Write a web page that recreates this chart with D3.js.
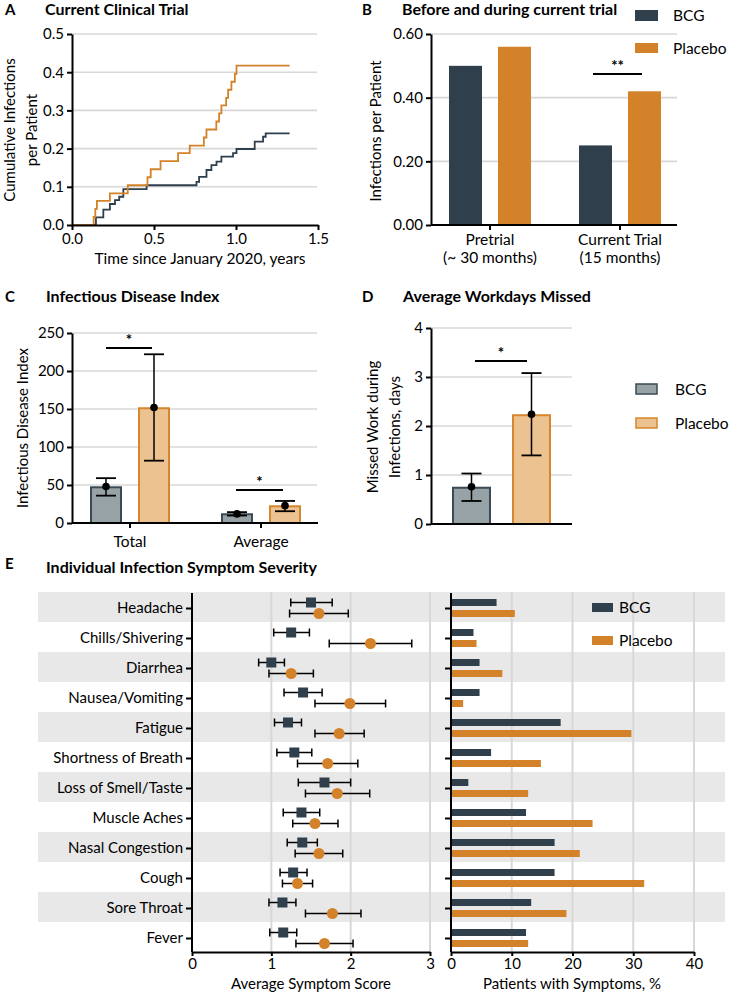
<!DOCTYPE html>
<html><head><meta charset="utf-8">
<script src="https://cdn.jsdelivr.net/npm/d3@7"></script>
<style>body{margin:0;background:#fff} svg{display:block}</style>
</head><body><svg id="c" width="729" height="993"></svg>
<script>
// ---------- DATA ----------
// Panel A: cumulative infections per patient (step curves)
const aPlaceboT = [0,0.132,0.142,0.152,0.231,0.34,0.46,0.48,0.54,0.647,0.718,0.804,0.82,0.88,0.897,0.911,0.94,0.952,0.972,0.993,1.003,1.327];
const aPlaceboV = [0,0.021,0.042,0.063,0.083,0.104,0.125,0.146,0.167,0.188,0.208,0.229,0.25,0.271,0.292,0.313,0.333,0.354,0.375,0.396,0.417,0.417];
const aBcgT = [0,0.146,0.191,0.231,0.262,0.288,0.313,0.455,0.759,0.775,0.82,0.85,0.881,0.911,0.982,1.003,1.114,1.165,1.181,1.327];
const aBcgV = [0,0.02,0.04,0.055,0.065,0.074,0.094,0.104,0.113,0.126,0.144,0.157,0.166,0.179,0.188,0.199,0.218,0.231,0.24,0.24];
const aTicksX = [0,0.5,1.0,1.5];
const aTicksY = [0,0.1,0.2,0.3,0.4,0.5];

// Panel B
const bCatLine1 = ["Pretrial","Current Trial"];
const bCatLine2 = ["(~ 30 months)","(15 months)"];
const bBcg = [0.50,0.25];
const bPlacebo = [0.56,0.42];
const bTicksY = [0,0.2,0.4,0.6];

// Panel C
const cCats = ["Total","Average"];
const cBcg = [47,11.5];
const cPlacebo = [151,22];
const cBcgMean = [48,12];
const cBcgLo = [36,9.8];
const cBcgHi = [59,14.3];
const cPlaceboMean = [152,22.8];
const cPlaceboLo = [82,15.5];
const cPlaceboHi = [222,29];
const cTicksY = [0,50,100,150,200,250];

// Panel D
const dGroups = ["BCG","Placebo"];
const dBar = [0.74,2.22];
const dMean = [0.76,2.24];
const dLo = [0.47,1.4];
const dHi = [1.03,3.08];
const dTicksY = [0,1,2,3,4];

// Panel E
const eSymptoms = ["Headache","Chills/Shivering","Diarrhea","Nausea/Vomiting","Fatigue","Shortness of Breath","Loss of Smell/Taste","Muscle Aches","Nasal Congestion","Cough","Sore Throat","Fever"];
const eBcgScore   = [1.50,1.25,1.00,1.40,1.21,1.29,1.67,1.38,1.39,1.275,1.14,1.15];
const eBcgLo      = [1.245,1.03,0.84,1.16,1.04,1.07,1.34,1.15,1.20,1.11,0.97,0.98];
const eBcgHi      = [1.767,1.48,1.165,1.64,1.38,1.51,2.00,1.61,1.58,1.45,1.31,1.32];
const ePlaceboScore = [1.60,2.25,1.25,1.99,1.855,1.71,1.83,1.55,1.60,1.33,1.77,1.67];
const ePlaceboLo  = [1.23,1.73,0.97,1.55,1.55,1.33,1.43,1.27,1.30,1.14,1.43,1.31];
const ePlaceboHi  = [1.97,2.77,1.53,2.44,2.17,2.09,2.24,1.84,1.90,1.52,2.13,2.03];
const eBcgPct     = [7.5,3.7,4.7,4.7,18.05,6.6,2.85,12.35,17.05,17.05,13.2,12.35];
const ePlaceboPct = [10.5,4.2,8.45,2.0,29.7,14.8,12.7,23.3,21.2,31.8,19.0,12.7];
const eTicksScore = [0,1,2,3];
const eTicksPct = [0,10,20,30,40];

// ---------- STYLE ----------
const FONT = "Lato, 'Open Sans', 'DejaVu Sans', sans-serif";
const DARK = "#2f3f4b", ORANGE = "#d3822a", GRID = "#d8d8d8", BAND = "#e8e8e8";
const BCG_FILL = "#97a2a6", BCG_STROKE = "#3b4a53", PL_FILL = "#edc291", PL_STROKE = "#d6862c";
const TITLE = 16, LETTER = 15;

const svg = d3.select("#c").attr("font-family", FONT);

function styleAxis(g, fs) {
  g.selectAll(".domain").attr("stroke","#000").attr("stroke-width",2);
  g.selectAll(".tick line").attr("stroke","#000").attr("stroke-width",2);
  g.selectAll(".tick text").attr("font-size",fs||15).attr("font-family",FONT).attr("fill","#000");
}
function txt(x,y,s,opt) {
  opt = opt||{};
  const t = svg.append("text").attr("x",x).attr("y",y).text(s)
    .attr("font-size",opt.size||15).attr("fill","#000")
    .attr("text-anchor",opt.anchor||"start")
    .attr("font-weight",opt.bold?"bold":"normal");
  if (opt.rot) t.attr("transform",`rotate(-90,${x},${y})`);
  return t;
}
function hgrid(scale, vals, x1, x2) {
  svg.append("g").selectAll("line").data(vals).join("line")
    .attr("x1",x1).attr("x2",x2).attr("y1",d=>scale(d)).attr("y2",d=>scale(d))
    .attr("stroke",GRID).attr("stroke-width",1.6);
}
function sig(x1,x2,y,label) {
  svg.append("line").attr("x1",x1).attr("x2",x2).attr("y1",y).attr("y2",y).attr("stroke","#000").attr("stroke-width",2);
  txt((x1+x2)/2, y-3, label, {anchor:"middle", size:15, bold:true});
}
function vErr(x,lo,hi,mean,cap) {
  const g = svg.append("g");
  g.append("line").attr("x1",x).attr("x2",x).attr("y1",lo).attr("y2",hi).attr("stroke","#000").attr("stroke-width",1.5);
  [lo,hi].forEach(y=>g.append("line").attr("x1",x-cap).attr("x2",x+cap).attr("y1",y).attr("y2",y).attr("stroke","#000").attr("stroke-width",1.8));
  g.append("circle").attr("cx",x).attr("cy",mean).attr("r",3.8).attr("fill","#000");
}
const fInt = d3.format("d");

// ---------- PANEL A ----------
{
  const x = d3.scaleLinear().domain([0,1.5]).range([72,318]);
  const y = d3.scaleLinear().domain([0,0.5]).range([225,34]);
  hgrid(y, aTicksY.slice(1), 72, 317);
  const line = d3.line().x(d=>x(d[0])).y(d=>y(d[1])).curve(d3.curveStepAfter);
  svg.append("path").datum(d3.zip(aBcgT,aBcgV)).attr("d",line).attr("fill","none").attr("stroke",DARK).attr("stroke-width",1.8);
  svg.append("path").datum(d3.zip(aPlaceboT,aPlaceboV)).attr("d",line).attr("fill","none").attr("stroke",ORANGE).attr("stroke-width",1.8);
  svg.append("g").attr("transform",`translate(0,${y(0)})`)
    .call(d3.axisBottom(x).tickValues(aTicksX).tickFormat(d3.format(".1f")).tickSize(5).tickSizeOuter(0)).call(g=>styleAxis(g,15));
  svg.append("g").attr("transform",`translate(${x(0)},0)`)
    .call(d3.axisLeft(y).tickValues(aTicksY).tickFormat(d3.format(".1f")).tickSize(5).tickSizeOuter(0)).call(g=>styleAxis(g,15));
  txt(5,15,"A",{bold:true,size:LETTER});
  txt(45,15,"Current Clinical Trial",{bold:true,size:TITLE});
  txt(15,130,"Cumulative Infections",{rot:true,anchor:"middle",size:15});
  txt(37,130,"per Patient",{rot:true,anchor:"middle",size:15});
  txt(200,264,"Time since January 2020, years",{anchor:"middle",size:15.5});
}

// ---------- PANEL B ----------
{
  const x = d3.scaleBand().domain(bCatLine1).range([425,685]);
  const inner = d3.scaleBand().domain(["BCG","Placebo"]).range([-41,41]).paddingInner(16/49);
  const y = d3.scaleLinear().domain([0,0.6]).range([225,34]);
  hgrid(y, bTicksY.slice(1), 431, 677);
  const g = svg.append("g");
  bCatLine1.forEach((c,i)=>{
    const cx = x(c)+x.bandwidth()/2;
    g.append("rect").attr("x",cx+inner("BCG")).attr("width",inner.bandwidth()).attr("y",y(bBcg[i])).attr("height",y(0)-y(bBcg[i])).attr("fill",DARK);
    g.append("rect").attr("x",cx+inner("Placebo")).attr("width",inner.bandwidth()).attr("y",y(bPlacebo[i])).attr("height",y(0)-y(bPlacebo[i])).attr("fill",ORANGE);
  });
  const ax = svg.append("g").attr("transform",`translate(0,${y(0)})`)
    .call(d3.axisBottom(x).tickSize(5).tickSizeOuter(0).tickFormat(()=>"")).call(g=>styleAxis(g,15));
  ax.select(".domain").remove();
  svg.append("line").attr("x1",431).attr("x2",677).attr("y1",y(0)).attr("y2",y(0)).attr("stroke","#000").attr("stroke-width",2);
  bCatLine1.forEach((c,i)=>{
    const cx = x(c)+x.bandwidth()/2;
    txt(cx,245,c,{anchor:"middle",size:15.5});
    txt(cx,263,bCatLine2[i],{anchor:"middle",size:15.5});
  });
  svg.append("g").attr("transform",`translate(431,0)`)
    .call(d3.axisLeft(y).tickValues(bTicksY).tickFormat(d3.format(".2f")).tickSize(5).tickSizeOuter(0)).call(g=>styleAxis(g,15));
  const c2 = x(bCatLine1[1])+x.bandwidth()/2;
  sig(c2-27, c2+22, 74, "**");
  txt(362,15,"B",{bold:true,size:LETTER});
  txt(402,15,"Before and during current trial",{bold:true,size:TITLE});
  txt(381,131,"Infections per Patient",{rot:true,anchor:"middle",size:15});
  // legend
  svg.append("rect").attr("x",635).attr("y",10).attr("width",23).attr("height",11).attr("fill",DARK);
  svg.append("rect").attr("x",635).attr("y",43).attr("width",23).attr("height",10).attr("fill",ORANGE);
  txt(673,21,"BCG",{size:15.5});
  txt(673,54,"Placebo",{size:15.5});
}

// ---------- PANEL C ----------
{
  const x = d3.scaleBand().domain(cCats).range([64.5,326.5]);
  const inner = d3.scaleBand().domain(["BCG","Placebo"]).range([-40,40]).paddingInner(1/3);
  const y = d3.scaleLinear().domain([0,250]).range([523,333]);
  hgrid(y, cTicksY.slice(1), 72, 317);
  cCats.forEach((c,i)=>{
    const cx = x(c)+x.bandwidth()/2;
    const bw = inner.bandwidth();
    svg.append("rect").attr("x",cx+inner("BCG")+1).attr("width",bw-2).attr("y",y(cBcg[i])).attr("height",y(0)-y(cBcg[i])).attr("fill",BCG_FILL).attr("stroke",BCG_STROKE).attr("stroke-width",2);
    svg.append("rect").attr("x",cx+inner("Placebo")+1).attr("width",bw-2).attr("y",y(cPlacebo[i])).attr("height",y(0)-y(cPlacebo[i])).attr("fill",PL_FILL).attr("stroke",PL_STROKE).attr("stroke-width",2);
    vErr(cx+inner("BCG")+bw/2, y(cBcgLo[i]), y(cBcgHi[i]), y(cBcgMean[i]), 10);
    vErr(cx+inner("Placebo")+bw/2, y(cPlaceboLo[i]), y(cPlaceboHi[i]), y(cPlaceboMean[i]), 10);
  });
  const ax = svg.append("g").attr("transform",`translate(0,${y(0)})`)
    .call(d3.axisBottom(x).tickSize(5).tickSizeOuter(0)).call(g=>styleAxis(g,15.5));
  ax.select(".domain").remove();
  ax.selectAll(".tick text").attr("dy","1.0em");
  svg.append("line").attr("x1",72).attr("x2",318).attr("y1",y(0)).attr("y2",y(0)).attr("stroke","#000").attr("stroke-width",2);
  svg.append("g").attr("transform",`translate(72,0)`)
    .call(d3.axisLeft(y).tickValues(cTicksY).tickFormat(fInt).tickSize(5).tickSizeOuter(0)).call(g=>styleAxis(g,15));
  const c1 = x(cCats[0])+x.bandwidth()/2, c2 = x(cCats[1])+x.bandwidth()/2;
  sig(c1-24, c1+22, 348, "*");
  sig(c2-25, c2+22, 490, "*");
  txt(5,302,"C",{bold:true,size:LETTER});
  txt(46,302,"Infectious Disease Index",{bold:true,size:TITLE});
  txt(28,428,"Infectious Disease Index",{rot:true,anchor:"middle",size:15});
}

// ---------- PANEL D ----------
{
  const x = d3.scaleBand().domain(dGroups).range([452,551]).paddingInner(0.35);
  const y = d3.scaleLinear().domain([0,4]).range([524,328]);
  hgrid(y, dTicksY.slice(1), 431, 572);
  svg.append("g").selectAll("rect").data(dGroups).join("rect")
    .attr("x",d=>x(d)+1).attr("width",x.bandwidth()-2)
    .attr("y",(d,i)=>y(dBar[i])).attr("height",(d,i)=>y(0)-y(dBar[i]))
    .attr("fill",(d,i)=>i?PL_FILL:BCG_FILL).attr("stroke",(d,i)=>i?PL_STROKE:BCG_STROKE).attr("stroke-width",2);
  dGroups.forEach((d,i)=>vErr(x(d)+x.bandwidth()/2, y(dLo[i]), y(dHi[i]), y(dMean[i]), 10));
  svg.append("line").attr("x1",431).attr("x2",572).attr("y1",y(0)).attr("y2",y(0)).attr("stroke","#000").attr("stroke-width",2);
  svg.append("g").attr("transform",`translate(431,0)`)
    .call(d3.axisLeft(y).tickValues(dTicksY).tickFormat(fInt).tickSize(5).tickSizeOuter(0)).call(g=>styleAxis(g,15));
  sig(475, 527, 361, "*");
  txt(362,302,"D",{bold:true,size:LETTER});
  txt(403,302,"Average Workdays Missed",{bold:true,size:TITLE});
  txt(378,427,"Missed Work during",{rot:true,anchor:"middle",size:15});
  txt(400,427,"Infections, days",{rot:true,anchor:"middle",size:15});
  // legend
  svg.append("rect").attr("x",636).attr("y",384).attr("width",21).attr("height",10).attr("fill",BCG_FILL).attr("stroke",BCG_STROKE).attr("stroke-width",1.5);
  svg.append("rect").attr("x",636).attr("y",418).attr("width",21).attr("height",10).attr("fill",PL_FILL).attr("stroke",PL_STROKE).attr("stroke-width",1.5);
  txt(675,395,"BCG",{size:15.5});
  txt(675,429,"Placebo",{size:15.5});
}

// ---------- PANEL E ----------
{
  const y = d3.scaleBand().domain(eSymptoms).range([592,952]);
  const xs = d3.scaleLinear().domain([0,3]).range([192,430]);
  const xp = d3.scaleLinear().domain([0,40]).range([451,694]);
  const rc = s => y(s)+y.bandwidth()/2+1;
  // bands
  svg.append("g").selectAll("rect").data(eSymptoms.filter((d,i)=>i%2===0)).join("rect")
    .attr("x",38).attr("width",687).attr("y",d=>y(d)).attr("height",y.bandwidth()).attr("fill",BAND);
  // vertical grids
  svg.append("g").selectAll("line").data(eTicksScore.slice(1)).join("line")
    .attr("x1",d=>xs(d)).attr("x2",d=>xs(d)).attr("y1",592).attr("y2",952).attr("stroke",GRID).attr("stroke-width",2);
  svg.append("g").selectAll("line").data(eTicksPct.slice(1)).join("line")
    .attr("x1",d=>xp(d)).attr("x2",d=>xp(d)).attr("y1",592).attr("y2",952).attr("stroke",GRID).attr("stroke-width",2);
  // right bars
  const BH = 7;
  svg.append("g").selectAll("rect").data(eSymptoms).join("rect")
    .attr("x",xp(0)).attr("width",(d,i)=>xp(eBcgPct[i])-xp(0)).attr("y",d=>rc(d)-5.5-BH/2).attr("height",BH).attr("fill",DARK);
  svg.append("g").selectAll("rect").data(eSymptoms).join("rect")
    .attr("x",xp(0)).attr("width",(d,i)=>xp(ePlaceboPct[i])-xp(0)).attr("y",d=>rc(d)+5.5-BH/2).attr("height",BH).attr("fill",ORANGE);
  // left error bars and markers
  const gE = svg.append("g");
  eSymptoms.forEach((s,i)=>{
    [[eBcgLo[i],eBcgHi[i],rc(s)-5.5],[ePlaceboLo[i],ePlaceboHi[i],rc(s)+5.5]].forEach(([lo,hi,yy])=>{
      gE.append("line").attr("x1",xs(lo)).attr("x2",xs(hi)).attr("y1",yy).attr("y2",yy).attr("stroke","#000").attr("stroke-width",1.5);
      [lo,hi].forEach(v=>gE.append("line").attr("x1",xs(v)).attr("x2",xs(v)).attr("y1",yy-4).attr("y2",yy+4).attr("stroke","#000").attr("stroke-width",1.5));
    });
    gE.append("rect").attr("x",xs(eBcgScore[i])-5).attr("y",rc(s)-5.5-5).attr("width",10).attr("height",10).attr("fill",DARK);
    gE.append("circle").attr("cx",xs(ePlaceboScore[i])).attr("cy",rc(s)+5.5).attr("r",5.5).attr("fill",ORANGE);
  });
  // axes
  const ly = d3.scaleOrdinal().domain(eSymptoms).range(eSymptoms.map(rc));
  const la = svg.append("g").attr("transform","translate(192,0)")
    .call(d3.axisLeft(ly).tickSize(6).tickPadding(3)).call(g=>styleAxis(g,15));
  la.select(".domain").remove();
  svg.append("line").attr("x1",192).attr("x2",192).attr("y1",593).attr("y2",952).attr("stroke","#000").attr("stroke-width",2);
  const ra = svg.append("g").attr("transform","translate(451,0)")
    .call(d3.axisLeft(ly).tickSize(6).tickFormat(()=>"")).call(g=>styleAxis(g,15));
  ra.select(".domain").remove();
  svg.append("line").attr("x1",451).attr("x2",451).attr("y1",593).attr("y2",952).attr("stroke","#000").attr("stroke-width",2);
  svg.append("g").attr("transform","translate(0,952)")
    .call(d3.axisBottom(xs).tickValues(eTicksScore).tickFormat(fInt).tickSize(4).tickPadding(2).tickSizeOuter(0)).call(g=>styleAxis(g,15));
  svg.append("g").attr("transform","translate(0,952)")
    .call(d3.axisBottom(xp).tickValues(eTicksPct).tickFormat(fInt).tickSize(4).tickPadding(2).tickSizeOuter(0)).call(g=>styleAxis(g,15));
  txt(311,989,"Average Symptom Score",{anchor:"middle",size:15});
  txt(572,988.5,"Patients with Symptoms, %",{anchor:"middle",size:15});
  txt(5,569,"E",{bold:true,size:LETTER});
  txt(46,573,"Individual Infection Symptom Severity",{bold:true,size:TITLE});
  // legend
  svg.append("rect").attr("x",592).attr("y",603).attr("width",21).attr("height",9).attr("fill",DARK);
  svg.append("rect").attr("x",592).attr("y",636).attr("width",21).attr("height",9).attr("fill",ORANGE);
  txt(619,613,"BCG",{size:15.5});
  txt(619,646,"Placebo",{size:15.5});
}
</script></body></html>
